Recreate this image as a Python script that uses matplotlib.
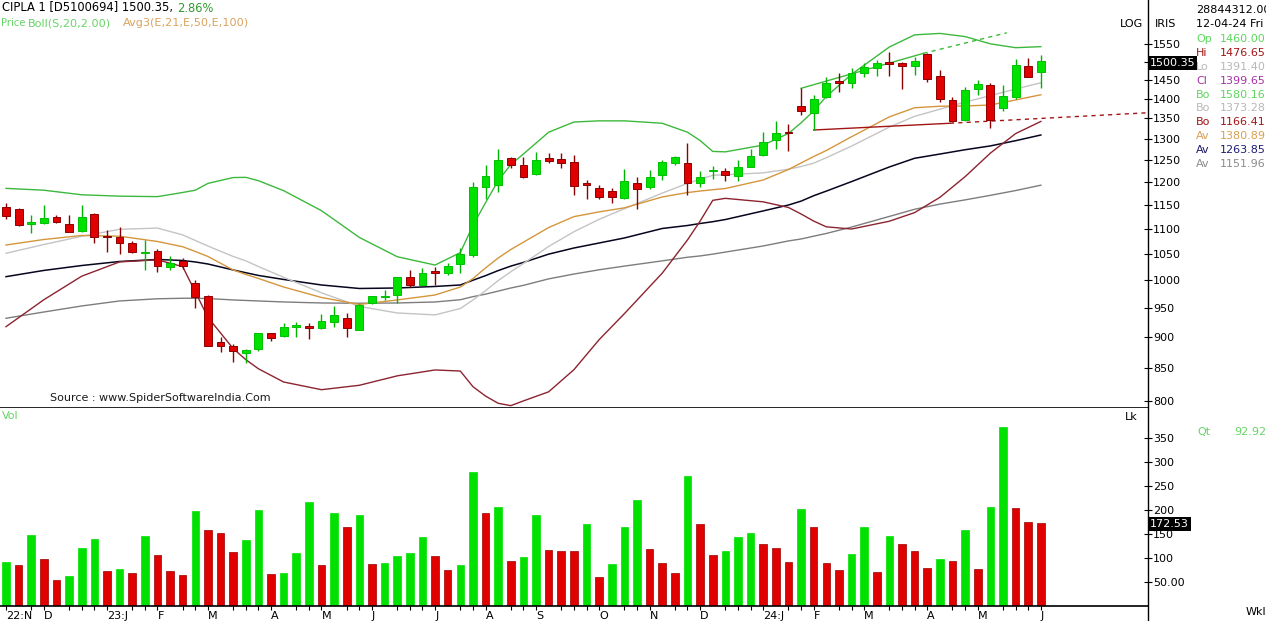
import numpy as np
import matplotlib
matplotlib.use("Agg")
import matplotlib.pyplot as plt
from matplotlib.lines import Line2D
from matplotlib.ticker import FixedLocator, FixedFormatter, NullLocator, NullFormatter

# weekly candles, Nov-2022 .. Jun-2024
opens = [1146.5, 1141.3, 1110.3, 1111.7, 1124.1, 1109.6, 1096.6, 1131.0, 1085.9, 1084.5,
         1071.3, 1051.7, 1056.1, 1024.8, 1037.4, 994.8, 971.3, 892.0, 886.2, 874.9,
         880.3, 907.8, 902.8, 918.0, 919.7, 916.3, 926.6, 933.6, 912.4, 959.2,
         969.1, 973.5, 1006.0, 991.7, 1018.4, 1014.6, 1030.4, 1048.4, 1188.4, 1193.5,
         1253.9, 1238.5, 1218.0, 1253.9, 1251.6, 1244.7, 1198.6, 1186.2, 1180.2, 1165.8,
         1197.3, 1188.4, 1215.8, 1242.5, 1242.5, 1197.3, 1224.3, 1225.5, 1213.6, 1234.6,
         1261.6, 1297.2, 1317.0, 1381.5, 1364.4, 1405.6, 1446.9, 1442.3, 1467.6, 1481.4,
         1499.6, 1495.2, 1488.6, 1521.3, 1460.0, 1397.0, 1346.2, 1424.9, 1436.3, 1375.6,
         1404.0, 1487.8, 1471.0]
highs = [1155.0, 1143.5, 1128.9, 1150.1, 1128.9, 1128.9, 1150.1, 1133.8, 1098.0, 1103.5,
         1076.5, 1077.9, 1059.5, 1046.4, 1042.0, 1001.0, 973.5, 901.2, 889.1, 880.3,
         907.8, 907.8, 924.8, 926.5, 924.8, 939.4, 954.4, 942.2, 957.0, 971.3,
         982.6, 1006.0, 1019.7, 1023.0, 1026.1, 1032.3, 1061.4, 1200.8, 1238.5, 1275.0,
         1257.7, 1257.7, 1269.4, 1267.0, 1265.6, 1261.6, 1204.6, 1193.5, 1187.6, 1228.7,
         1210.9, 1227.1, 1250.0, 1259.6, 1289.2, 1225.5, 1236.9, 1231.0, 1250.0, 1275.0,
         1315.8, 1343.7, 1337.3, 1427.5, 1410.0, 1458.5, 1467.6, 1481.4, 1495.2, 1504.3,
         1526.0, 1499.6, 1513.6, 1523.4, 1476.65, 1404.0, 1431.8, 1449.6, 1442.3, 1436.3,
         1506.2, 1509.5, 1518.3]
lows = [1120.0, 1107.0, 1092.5, 1110.3, 1112.9, 1094.6, 1094.6, 1071.3, 1054.8, 1050.4,
        1052.9, 1019.7, 1016.5, 1019.7, 1021.0, 949.8, 885.7, 876.4, 860.1, 858.3,
        878.1, 894.5, 901.2, 901.2, 896.8, 913.6, 917.0, 900.3, 912.4, 958.1,
        964.6, 959.2, 987.5, 991.7, 991.7, 1010.3, 1013.5, 1045.1, 1162.3, 1178.7,
        1231.0, 1208.4, 1215.8, 1242.5, 1231.0, 1171.6, 1162.6, 1162.6, 1154.0, 1162.6,
        1142.6, 1183.7, 1204.6, 1238.5, 1171.6, 1188.4, 1207.5, 1202.4, 1202.4, 1234.6,
        1259.6, 1275.0, 1270.0, 1358.7, 1321.4, 1401.4, 1418.6, 1427.5, 1458.5, 1459.9,
        1459.9, 1424.9, 1463.1, 1445.0, 1391.4, 1342.0, 1344.5, 1410.0, 1325.5, 1369.5,
        1398.8, 1456.9, 1427.5]
closes = [1126.8, 1108.8, 1114.4, 1122.7, 1115.0, 1094.6, 1125.4, 1084.5, 1083.3, 1071.3,
          1054.8, 1054.2, 1027.8, 1033.5, 1027.2, 969.4, 885.7, 886.2, 878.1, 879.2,
          907.8, 898.5, 918.0, 920.4, 915.8, 927.8, 937.7, 915.3, 955.7, 971.3,
          971.3, 1006.0, 991.7, 1014.6, 1014.6, 1027.2, 1050.4, 1188.4, 1213.6, 1250.0,
          1238.5, 1212.2, 1250.0, 1247.7, 1242.5, 1191.3, 1193.5, 1167.7, 1167.7, 1203.1,
          1184.0, 1212.0, 1244.7, 1256.3, 1198.6, 1212.0, 1226.4, 1215.8, 1234.6, 1259.6,
          1291.8, 1313.3, 1313.3, 1369.5, 1399.6, 1442.3, 1440.7, 1467.6, 1485.9, 1495.2,
          1492.4, 1488.6, 1502.4, 1451.5, 1399.65, 1344.5, 1423.0, 1438.9, 1346.2, 1407.4,
          1490.5, 1458.5, 1500.35]
# volume in lakh shares
volume = [92, 84, 148, 97, 53, 61, 121, 139, 72, 76, 68, 146, 105, 72, 63, 198, 157, 152, 111, 136,
          200, 66, 68, 109, 217, 84, 194, 165, 190, 86, 90, 103, 109, 144, 103, 74, 84, 279, 194, 206,
          94, 101, 188, 117, 114, 113, 171, 59, 86, 165, 220, 119, 88, 68, 270, 171, 105, 113, 144, 152,
          128, 121, 92, 202, 163, 88, 74, 107, 163, 70, 146, 128, 115, 78, 97, 94, 157, 76, 206, 372,
          204, 174, 172.53]

# indicator lines, read at these bar positions
band_idx = [0, 3, 6, 9, 12, 14, 15, 16, 18, 19, 20, 22, 25, 28, 31, 34, 36, 37, 38, 39, 40, 41,
            43, 45, 47, 49, 52, 54, 55, 56, 57, 60, 62, 63, 64, 65, 67, 70, 72, 74, 76, 78, 80, 82]
boll_upper = [1186, 1182, 1172, 1169, 1168, 1177, 1182, 1197, 1210, 1210.5, 1203, 1181, 1138, 1083,
              1045, 1029, 1053, 1107.5, 1155, 1203, 1239.5, 1264, 1316, 1341, 1344, 1344, 1338, 1316,
              1296, 1270, 1269, 1285, 1313, 1339, 1369, 1406, 1465, 1541, 1576, 1580.2, 1571, 1550,
              1539, 1542]
boll_mid = [1051.7, 1068.9, 1085.3, 1099.4, 1101.9, 1088.1, 1076.9, 1065.9, 1045.5, 1037.1, 1026.2,
            1005.9, 977.4, 953.2, 941.6, 938.3, 949.4, 964.5, 981.3, 999.8, 1016.3, 1032.0, 1065.0,
            1094.5, 1119.9, 1142.1, 1175.7, 1197.0, 1206.2, 1215.0, 1216.4, 1220.6, 1228.8, 1234.9,
            1242.7, 1255.3, 1282.6, 1328.6, 1355.3, 1373.3, 1391.6, 1408.3, 1425.6, 1442.2]
boll_lower = [918, 965, 1008, 1035, 1039, 1026, 979, 934, 881.5, 863.7, 849.2, 828.6, 816.9, 823.6,
              838.1, 847.3, 845.6, 821.5, 807.3, 796.6, 793.1, 800.1, 813.7, 847.7, 896.2, 940.4,
              1013.7, 1078, 1116.2, 1160, 1164.3, 1156.8, 1144.8, 1131.1, 1116.3, 1104.5, 1100.0,
              1116.0, 1134, 1166.4, 1212, 1266, 1312.6, 1342.5]
ema21 = [1067.9, 1078.9, 1086.9, 1085.5, 1074.9, 1064.5, 1055.2, 1045.5, 1019.7, 1011.2, 1003.8,
         988.0, 969.0, 956.6, 964.6, 973.5, 988.0, 1003.5, 1023.5, 1042.5, 1059.0, 1073.5, 1103.0,
         1125.5, 1135.5, 1144.0, 1167.3, 1176.9, 1180.2, 1183.0, 1185.7, 1204.6, 1228.2, 1243.1,
         1258.1, 1272.2, 1305.0, 1354.0, 1377.0, 1380.9, 1381.5, 1384.0, 1397.0, 1410.5]
ema50 = [1007.1, 1018.8, 1028.1, 1035.8, 1039.7, 1037.7, 1034.9, 1031.0, 1019.7, 1014.5, 1009.4,
         1001.9, 991.7, 985.3, 986.2, 989.0, 991.7, 1000.5, 1009.0, 1018.5, 1027.0, 1034.0, 1050.0,
         1062.0, 1071.9, 1081.9, 1101.1, 1107.2, 1111.3, 1115.0, 1119.5, 1137.5, 1150.0, 1158.3,
         1170.0, 1180.0, 1201.0, 1234.0, 1254.0, 1263.85, 1274.0, 1283.0, 1295.5, 1309.2]
ema100 = [932.4, 943.3, 953.9, 962.8, 966.7, 967.6, 967.6, 967.1, 964.6, 963.7, 962.8, 961.0, 959.2,
          958.7, 959.2, 961.0, 965.0, 970.5, 975.0, 980.5, 986.2, 991.0, 1003.0, 1012.0, 1020.0,
          1027.0, 1037.0, 1044.0, 1046.5, 1050.0, 1054.0, 1066.0, 1076.0, 1079.9, 1085.5, 1091.0,
          1104.0, 1126.0, 1141.0, 1151.96, 1161.0, 1170.8, 1181.2, 1193.0]

# hand-drawn trendlines (bar position, price)
support_idx = [64, 74.8, 90.3]
support_px = [1321.4, 1338.0, 1364.0]
resist_idx = [63.0, 72.7, 79.3]
resist_px = [1427.5, 1523.0, 1582.0]

month_idx = [0, 3, 8, 12, 16, 21, 25, 29, 34, 38, 42, 47, 51, 55, 60, 64, 68, 73, 77, 82]
month_labels = ['22:N', 'D', '23:J', 'F', 'M', 'A', 'M', 'J', 'J', 'A', 'S', 'O',
                'N', 'D', '24:J', 'F', 'M', 'A', 'M', 'J']
price_ticks = [800, 850, 900, 950, 1000, 1050, 1100, 1150, 1200, 1250, 1300, 1350,
               1400, 1450, 1500, 1550]
vol_ticks = [50, 100, 150, 200, 250, 300, 350]
vol_tick_labels = ['50.00', '100', '150', '200', '250', '300', '350']

info_labels = ['Op', 'Hi', 'Lo', 'Cl', 'Bo', 'Bo', 'Bo', 'Av', 'Av', 'Av']
info_values = [1460.00, 1476.65, 1391.40, 1399.65, 1580.16, 1373.28, 1166.41, 1380.89, 1263.85, 1151.96]
info_colors = ['#5cd65c', '#a31515', '#b8b8b8', '#a632a6', '#5cd65c', '#b8b8b8', '#a31515',
               '#d9a050', '#1c1c70', '#8c8c8c']

GREEN = '#00e100'
RED = '#e10000'

W, H = 1266, 621
fig = plt.figure(figsize=(W / 100, H / 100), dpi=100)

def fx(px):
    return px / W

def fy(py):
    return 1 - py / H

axis_x, sep_y, bot_y = 1147.7, 407.7, 605.7
bar_px, first_px = 12.62, 6.0
ax = fig.add_axes([0, fy(sep_y), fx(axis_x), sep_y / H])
axv = fig.add_axes([0, fy(bot_y), fx(axis_x), (bot_y - sep_y) / H])
xlim = (-first_px / bar_px, (axis_x - first_px) / bar_px)

o = np.array(opens); h = np.array(highs); l = np.array(lows); c = np.array(closes)
x = np.arange(len(c))
up = c >= o

# ---- price panel ----
ax.plot(band_idx, ema100, color='#7d7d7d', lw=1, zorder=2)
ax.plot(band_idx, ema50, color='#05051e', lw=1.1, zorder=2)
ax.plot(band_idx, boll_mid, color='#c4c4c4', lw=1, zorder=2)
ax.plot(band_idx, ema21, color='#d4963c', lw=1, zorder=2)
ax.plot(band_idx, boll_lower, color='#8c2430', lw=1, zorder=2)
ax.plot(band_idx, boll_upper, color='#3cb93c', lw=1, zorder=2)

ax.plot(support_idx[:2], support_px[:2], color='#a31515', lw=1, zorder=2)
ax.plot(support_idx[1:], support_px[1:], color='#a31515', lw=1, ls=(0, (3, 3)), zorder=2)
ax.plot(resist_idx[:2], resist_px[:2], color='#3cb93c', lw=1, zorder=2)
ax.plot(resist_idx[1:], resist_px[1:], color='#3cb93c', lw=1, ls=(0, (3, 3)), zorder=2)

ax.vlines(x, l, h, colors=np.where(up, '#00b400', '#8b0000'), lw=1, zorder=3)
ax.bar(x, np.abs(c - o), bottom=np.minimum(o, c), width=0.62,
       color=np.where(up, GREEN, RED), edgecolor=np.where(up, '#00c000', '#8b0000'),
       linewidth=0.7, zorder=4)

ax.set_yscale('log')
ax.set_xlim(*xlim)
ax.set_ylim(790.1, 1681.1)
ax.yaxis.set_major_locator(FixedLocator(price_ticks))
# the 1500 label sits under the last-price box
ax.yaxis.set_major_formatter(FixedFormatter(['' if t == 1500 else str(t) for t in price_ticks]))
ax.yaxis.set_minor_locator(NullLocator())
ax.yaxis.set_minor_formatter(NullFormatter())
ax.yaxis.tick_right()
ax.tick_params(axis='y', direction='inout', length=6, width=0.8, pad=1, labelsize=8)
ax.tick_params(axis='x', bottom=False, labelbottom=False)
for s in ['top', 'left', 'right']:
    ax.spines[s].set_visible(False)
ax.spines['bottom'].set_linewidth(1.2)

# ---- volume panel ----
v = np.array(volume)
vup = np.r_[True, v[1:] > v[:-1]]
axv.bar(x, v, width=0.6, color=np.where(vup, GREEN, RED),
        edgecolor=np.where(vup, GREEN, '#9a0000'), linewidth=0.5)
axv.set_xlim(*xlim)
axv.set_ylim(0, (bot_y - sep_y) / 24 * 50)
axv.yaxis.set_major_locator(FixedLocator(vol_ticks))
axv.yaxis.set_major_formatter(FixedFormatter(vol_tick_labels))
axv.yaxis.tick_right()
axv.tick_params(axis='y', direction='inout', length=6, width=0.8, pad=1, labelsize=8)
axv.set_xticks(month_idx)
axv.set_xticklabels(month_labels, ha='left', fontsize=8)
minor = [i for i in range(len(c)) if i not in month_idx and (i - 1) not in month_idx]
axv.xaxis.set_minor_locator(FixedLocator(minor))
axv.tick_params(axis='x', which='both', direction='out', length=3, width=0.8, pad=1)
for s in ['top', 'left', 'right']:
    axv.spines[s].set_visible(False)
axv.spines['bottom'].set_linewidth(1.2)

fig.add_artist(Line2D([fx(axis_x)] * 2, [0, 1], transform=fig.transFigure, color='black', lw=1))

# ---- texts ----
fig.text(fx(2), fy(8), 'CIPLA 1 [D5100694] 1500.35,', fontsize=8.3, va='center')
fig.text(fx(177), fy(8), '2.86%', fontsize=8.3, va='center', color='#2e9a2e')
fig.text(fx(1), fy(23), 'Price', fontsize=7.2, va='center', color='#66d466')
fig.text(fx(28), fy(23), 'Boll(S,20,2.00)', fontsize=8.1, va='center', color='#66d466')
fig.text(fx(123), fy(23), 'Avg3(E,21,E,50,E,100)', fontsize=8.1, va='center', color='#d9a35f')
fig.text(fx(50), fy(398), 'Source : www.SpiderSoftwareIndia.Com', fontsize=8, va='center', color='#1a1a1a')
fig.text(fx(2), fy(416), 'Vol', fontsize=8, va='center', color='#66d466')

fig.text(fx(1143), fy(24), 'LOG', fontsize=8, va='center', ha='right')
fig.text(fx(1155), fy(24), 'IRIS', fontsize=8, va='center')
fig.text(fx(1196), fy(10), '28844312.00', fontsize=8, va='center')
fig.text(fx(1196), fy(24), '12-04-24 Fri', fontsize=8, va='center')
for k, (lab, val, col) in enumerate(zip(info_labels, info_values, info_colors)):
    yy = 39.3 + 13.8 * k
    fig.text(fx(1196), fy(yy), lab, fontsize=8, va='center', color=col)
    fig.text(fx(1220), fy(yy), f'{val:.2f}', fontsize=8, va='center', color=col)

fig.text(fx(1150), fy(63), f'{closes[-1]:.2f}', fontsize=8, va='center', color='white',
         bbox=dict(boxstyle='square,pad=0.15', fc='black', ec='none'))
fig.text(fx(1150), fy(524), f'{volume[-1]:.2f}', fontsize=8, va='center', color='white',
         bbox=dict(boxstyle='square,pad=0.15', fc='black', ec='none'))
fig.text(fx(1138), fy(417), 'Lk', fontsize=8, va='center', ha='right')
fig.text(fx(1197), fy(432), 'Qt', fontsize=8, va='center', color='#66d466')
fig.text(fx(1266), fy(432), '92.92', fontsize=8, va='center', ha='right', color='#66d466')
fig.text(fx(1266), fy(612), 'Wkl', fontsize=8, va='center', ha='right')

fig.savefig('out.png', dpi=100, facecolor='white')
